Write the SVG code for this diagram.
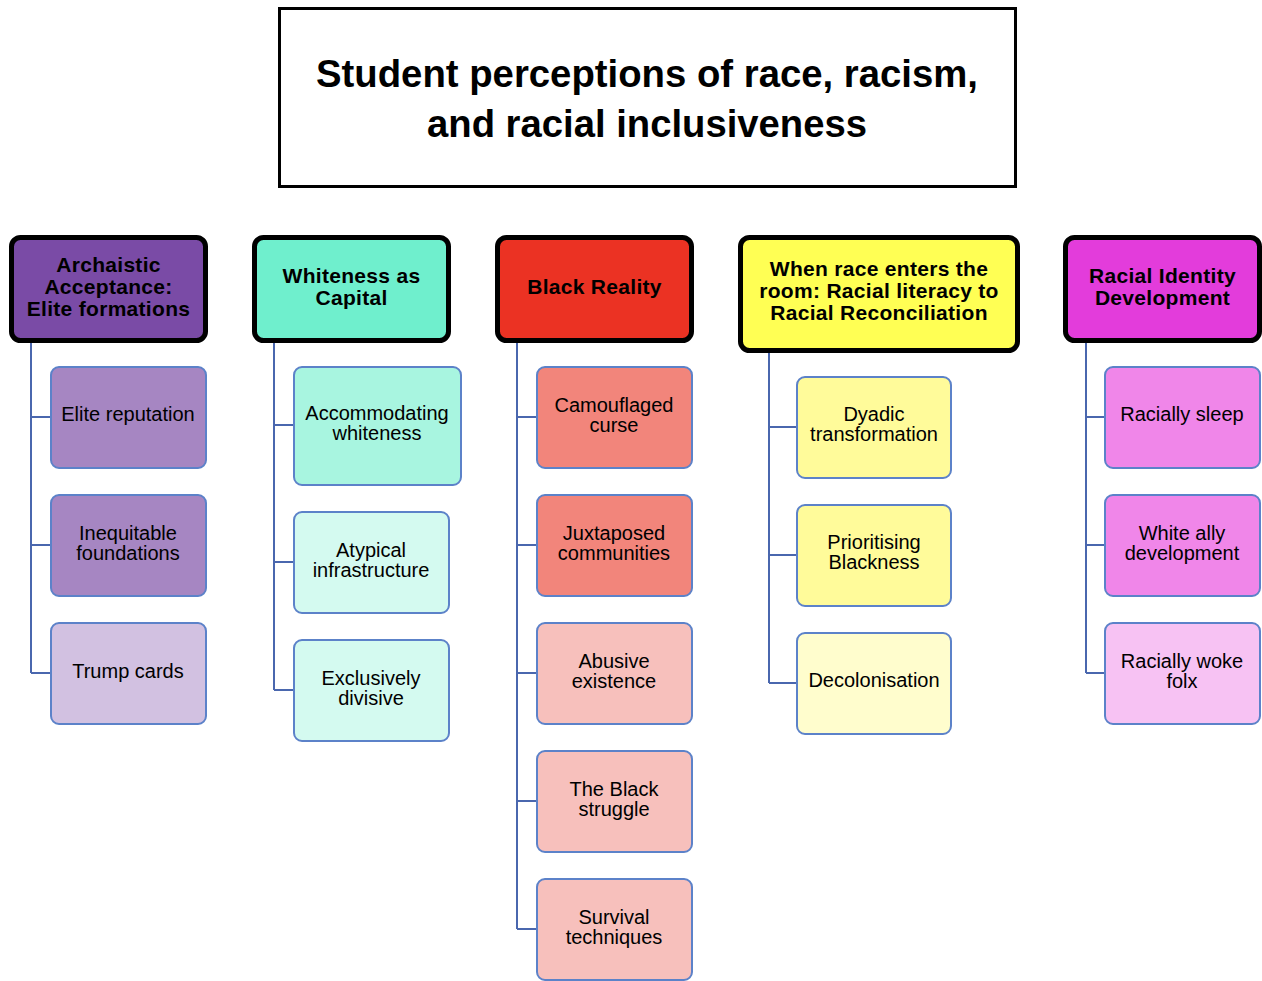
<svg xmlns="http://www.w3.org/2000/svg" width="1262" height="981" viewBox="0 0 1262 981">
  <style>
    .title { font-family: "Liberation Sans", Arial, sans-serif; font-weight: bold; font-size: 38px; fill: #000; text-anchor: middle; }
    .head { stroke: #000; stroke-width: 5; }
    .htext { font-family: "Liberation Sans", Arial, sans-serif; font-weight: bold; font-size: 21px; letter-spacing: 0.3px; fill: #000; text-anchor: middle; }
    .child { stroke: #5C82C9; stroke-width: 2; }
    .ctext { font-family: "Liberation Sans", Arial, sans-serif; font-size: 20px; fill: #000; text-anchor: middle; }
    .conn { fill: none; stroke: #4A67AE; stroke-width: 2; }
  </style>

  <rect width="1262" height="981" fill="#fff"/>

  <!-- title -->
  <g id="title">
    <rect x="279.5" y="8.5" width="736" height="178" fill="#fff" stroke="#000" stroke-width="3"/>
    <text class="title" x="647" y="87" textLength="662" lengthAdjust="spacingAndGlyphs">Student perceptions of race, racism,</text>
    <text class="title" x="647" y="137" textLength="440" lengthAdjust="spacingAndGlyphs">and racial inclusiveness</text>
  </g>

  <!-- connectors -->
  <g id="connectors">
    <path class="conn" d="M31 341 V673 M31 417 H50 M31 545 H50 M31 673 H50"/>
    <path class="conn" d="M274 341 V690 M274 425 H293 M274 562 H293 M274 690 H293"/>
    <path class="conn" d="M517 341 V929 M517 417 H537 M517 545 H537 M517 673 H537 M517 801 H537 M517 929 H537"/>
    <path class="conn" d="M769 351 V683 M769 427 H796 M769 555 H796 M769 683 H796"/>
    <path class="conn" d="M1086 341 V673 M1086 417 H1105 M1086 545 H1105 M1086 673 H1105"/>
  </g>

  <!-- column 1 -->
  <g id="archaistic-acceptance">
    <rect class="head" x="11.5" y="237.5" width="194" height="103" rx="9" fill="#7A4BA6"/>
    <text class="htext" x="108.5" y="272">Archaistic</text>
    <text class="htext" x="108.5" y="294">Acceptance:</text>
    <text class="htext" x="108.5" y="316">Elite formations</text>
  </g>
  <g id="elite-reputation">
    <rect class="child" x="51" y="367" width="155" height="101" rx="8" fill="#A686C2"/>
    <text class="ctext" x="128" y="421">Elite reputation</text>
  </g>
  <g id="inequitable-foundations">
    <rect class="child" x="51" y="495" width="155" height="101" rx="8" fill="#A686C2"/>
    <text class="ctext" x="128" y="540">Inequitable</text>
    <text class="ctext" x="128" y="560">foundations</text>
  </g>
  <g id="trump-cards">
    <rect class="child" x="51" y="623" width="155" height="101" rx="8" fill="#D2C1E1"/>
    <text class="ctext" x="128" y="678">Trump cards</text>
  </g>

  <!-- column 2 -->
  <g id="whiteness-as-capital">
    <rect class="head" x="254.5" y="237.5" width="194" height="103" rx="9" fill="#6FEFCD"/>
    <text class="htext" x="351.5" y="283">Whiteness as</text>
    <text class="htext" x="351.5" y="305">Capital</text>
  </g>
  <g id="accommodating-whiteness">
    <rect class="child" x="294" y="367" width="167" height="118" rx="8" fill="#A8F5E0"/>
    <text class="ctext" x="377" y="420">Accommodating</text>
    <text class="ctext" x="377" y="440">whiteness</text>
  </g>
  <g id="atypical-infrastructure">
    <rect class="child" x="294" y="512" width="155" height="101" rx="8" fill="#D4FAF0"/>
    <text class="ctext" x="371" y="557">Atypical</text>
    <text class="ctext" x="371" y="577">infrastructure</text>
  </g>
  <g id="exclusively-divisive">
    <rect class="child" x="294" y="640" width="155" height="101" rx="8" fill="#D4FAF0"/>
    <text class="ctext" x="371" y="685">Exclusively</text>
    <text class="ctext" x="371" y="705">divisive</text>
  </g>

  <!-- column 3 -->
  <g id="black-reality">
    <rect class="head" x="497.5" y="237.5" width="194" height="103" rx="9" fill="#EB3223"/>
    <text class="htext" x="594.5" y="294">Black Reality</text>
  </g>
  <g id="camouflaged-curse">
    <rect class="child" x="537" y="367" width="155" height="101" rx="8" fill="#F2857B"/>
    <text class="ctext" x="614" y="412">Camouflaged</text>
    <text class="ctext" x="614" y="432">curse</text>
  </g>
  <g id="juxtaposed-communities">
    <rect class="child" x="537" y="495" width="155" height="101" rx="8" fill="#F2857B"/>
    <text class="ctext" x="614" y="540">Juxtaposed</text>
    <text class="ctext" x="614" y="560">communities</text>
  </g>
  <g id="abusive-existence">
    <rect class="child" x="537" y="623" width="155" height="101" rx="8" fill="#F7C0BC"/>
    <text class="ctext" x="614" y="668">Abusive</text>
    <text class="ctext" x="614" y="688">existence</text>
  </g>
  <g id="the-black-struggle">
    <rect class="child" x="537" y="751" width="155" height="101" rx="8" fill="#F7C0BC"/>
    <text class="ctext" x="614" y="796">The Black</text>
    <text class="ctext" x="614" y="816">struggle</text>
  </g>
  <g id="survival-techniques">
    <rect class="child" x="537" y="879" width="155" height="101" rx="8" fill="#F7C0BC"/>
    <text class="ctext" x="614" y="924">Survival</text>
    <text class="ctext" x="614" y="944">techniques</text>
  </g>

  <!-- column 4 -->
  <g id="when-race-enters-the-room">
    <rect class="head" x="740.5" y="237.5" width="277" height="113" rx="9" fill="#FFFF54"/>
    <text class="htext" x="879" y="276">When race enters the</text>
    <text class="htext" x="879" y="298">room: Racial literacy to</text>
    <text class="htext" x="879" y="320">Racial Reconciliation</text>
  </g>
  <g id="dyadic-transformation">
    <rect class="child" x="797" y="377" width="154" height="101" rx="8" fill="#FFFB9A"/>
    <text class="ctext" x="874" y="421">Dyadic</text>
    <text class="ctext" x="874" y="441">transformation</text>
  </g>
  <g id="prioritising-blackness">
    <rect class="child" x="797" y="505" width="154" height="101" rx="8" fill="#FFFB9A"/>
    <text class="ctext" x="874" y="549">Prioritising</text>
    <text class="ctext" x="874" y="569">Blackness</text>
  </g>
  <g id="decolonisation">
    <rect class="child" x="797" y="633" width="154" height="101" rx="8" fill="#FFFDCD"/>
    <text class="ctext" x="874" y="687">Decolonisation</text>
  </g>

  <!-- column 5 -->
  <g id="racial-identity-development">
    <rect class="head" x="1065.5" y="237.5" width="194" height="103" rx="9" fill="#E33CDB"/>
    <text class="htext" x="1162.5" y="283">Racial Identity</text>
    <text class="htext" x="1162.5" y="305">Development</text>
  </g>
  <g id="racially-sleep">
    <rect class="child" x="1105" y="367" width="155" height="101" rx="8" fill="#F086E9"/>
    <text class="ctext" x="1182" y="421">Racially sleep</text>
  </g>
  <g id="white-ally-development">
    <rect class="child" x="1105" y="495" width="155" height="101" rx="8" fill="#F086E9"/>
    <text class="ctext" x="1182" y="540">White ally</text>
    <text class="ctext" x="1182" y="560">development</text>
  </g>
  <g id="racially-woke-folx">
    <rect class="child" x="1105" y="623" width="155" height="101" rx="8" fill="#F7C2F3"/>
    <text class="ctext" x="1182" y="668">Racially woke</text>
    <text class="ctext" x="1182" y="688">folx</text>
  </g>
</svg>
